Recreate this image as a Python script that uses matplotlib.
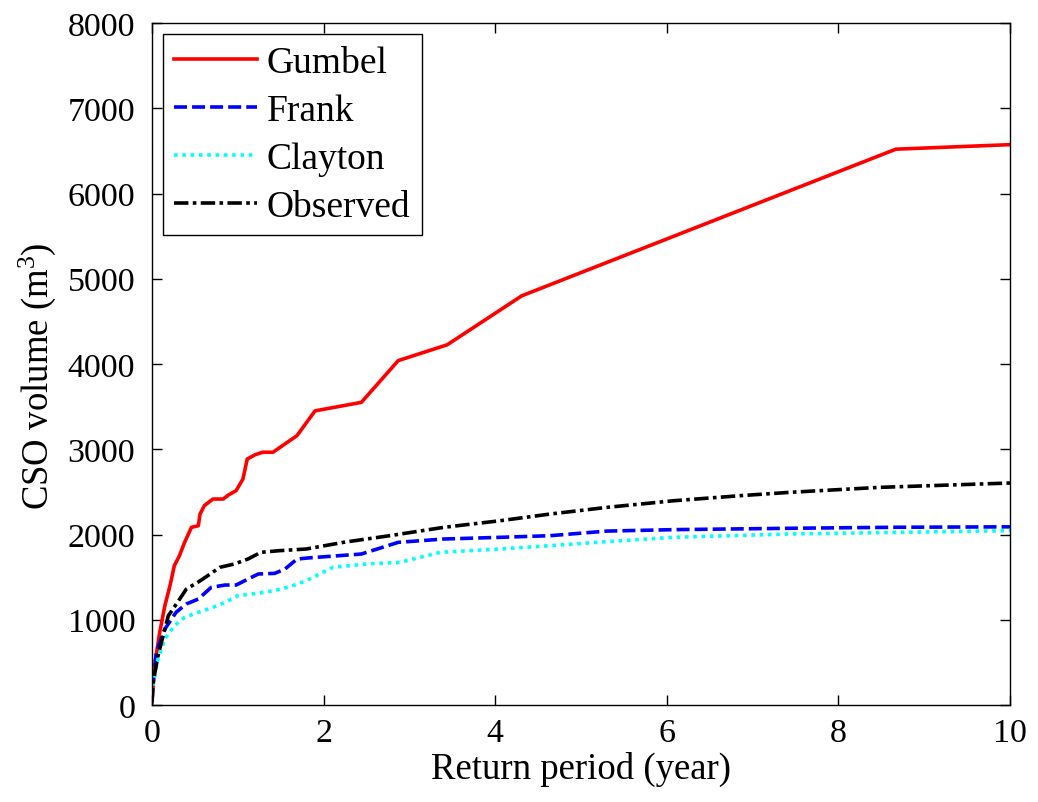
import matplotlib
matplotlib.use("Agg")
import matplotlib.pyplot as plt

plt.rcParams['font.family'] = ['Liberation Serif', 'DejaVu Serif']
plt.rcParams['mathtext.fontset'] = 'custom'
plt.rcParams['mathtext.rm'] = 'Liberation Serif'
plt.rcParams['mathtext.it'] = 'Liberation Serif:italic'

gumbel_x = [0.0, 0.03, 0.09, 0.15, 0.21, 0.26, 0.32, 0.38, 0.46, 0.54, 0.56, 0.61, 0.71,
            0.83, 0.89, 0.98, 1.06, 1.11, 1.20, 1.29, 1.41, 1.69, 1.90, 2.44, 2.87, 3.44,
            4.31, 8.67, 10.0]
gumbel_y = [30, 461, 852, 1165, 1400, 1634, 1751, 1908, 2084, 2103, 2240, 2338, 2416,
            2416, 2463, 2514, 2651, 2885, 2935, 2965, 2965, 3160, 3450, 3550, 4040, 4225,
            4800, 6520, 6573]

frank_x = [0.0, 0.01, 0.05, 0.15, 0.28, 0.40, 0.54, 0.69, 0.85, 0.98, 1.12, 1.24, 1.43,
           1.55, 1.69, 1.82, 2.44, 2.87, 3.40, 4.06, 4.64, 5.30, 6.08, 7.44, 8.67, 10.0]
frank_y = [30, 227, 618, 891, 1087, 1185, 1243, 1380, 1407, 1407, 1478, 1537, 1544,
           1595, 1712, 1725, 1771, 1908, 1947, 1967, 1986, 2040, 2057, 2073, 2085, 2090]

clayton_x = [0.0, 0.01, 0.07, 0.15, 0.26, 0.38, 0.54, 0.71, 0.85, 1.00, 1.16, 1.31, 1.51,
             1.70, 1.82, 2.11, 2.50, 2.89, 3.36, 4.06, 4.64, 5.30, 6.08, 7.44, 10.0]
clayton_y = [30, 227, 540, 774, 930, 1028, 1087, 1145, 1204, 1282, 1302, 1322, 1360,
             1419, 1470, 1615, 1654, 1673, 1791, 1830, 1869, 1916, 1967, 2006, 2045]

observed_x = [0.0, 0.01, 0.07, 0.19, 0.30, 0.40, 0.54, 0.65, 0.79, 0.96, 1.12, 1.27, 1.48,
              1.80, 2.23, 2.77, 3.40, 4.06, 4.64, 5.30, 6.08, 6.85, 7.44, 8.48, 10.0]
observed_y = [30, 250, 578, 1047, 1208, 1360, 1443, 1517, 1615, 1654, 1713, 1791, 1810,
              1830, 1908, 1986, 2084, 2162, 2240, 2318, 2396, 2455, 2495, 2553, 2604]

labels = ['Gumbel', 'Frank', 'Clayton', 'Observed']

fig = plt.figure(figsize=(10.38, 8.03), dpi=100)
ax = fig.add_axes([152/1038, 1-706/803, (1010-152)/1038, (706-24)/803])

lw = 2.6
ax.plot(gumbel_x, gumbel_y, color='#ff0000', lw=lw, ls='-', label=labels[0])
ax.plot(frank_x, frank_y, color='#0000ff', lw=lw, ls=(0, (3.6, 1.4)), label=labels[1])
ax.plot(clayton_x, clayton_y, color='#00ffff', lw=lw, ls=(0, (1.0, 1.3)), label=labels[2])
ax.plot(observed_x, observed_y, color='black', lw=lw, ls=(0, (4.0, 1.2, 1.0, 1.2)), label=labels[3])

ax.set_xlim(0, 10)
ax.set_ylim(0, 8000)
ax.set_xticks([0, 2, 4, 6, 8, 10])
ax.set_yticks(range(0, 8001, 1000))
ax.tick_params(direction='in', top=True, right=True, length=7, width=1,
               labelsize=24.5)
ax.tick_params(axis='y', pad=12)
ax.tick_params(axis='x', pad=9)
for s in ax.spines.values():
    s.set_linewidth(1.0)

ax.set_xlabel('Return period (year)', fontsize=26.5, labelpad=2)
ax.set_ylabel('CSO volume (m$^{3}$)', fontsize=26.5)
ax.yaxis.set_label_coords(-94/858, 0.483)

leg = ax.legend(loc='upper left', fontsize=27, frameon=True, fancybox=False,
                edgecolor='black', framealpha=1, handlelength=2.2,
                borderpad=0.3, labelspacing=0.36, handletextpad=0.27,
                bbox_to_anchor=(11/858, 1-11/682), borderaxespad=0)
leg.get_frame().set_linewidth(1.0)

fig.savefig('out.png', dpi=100)
